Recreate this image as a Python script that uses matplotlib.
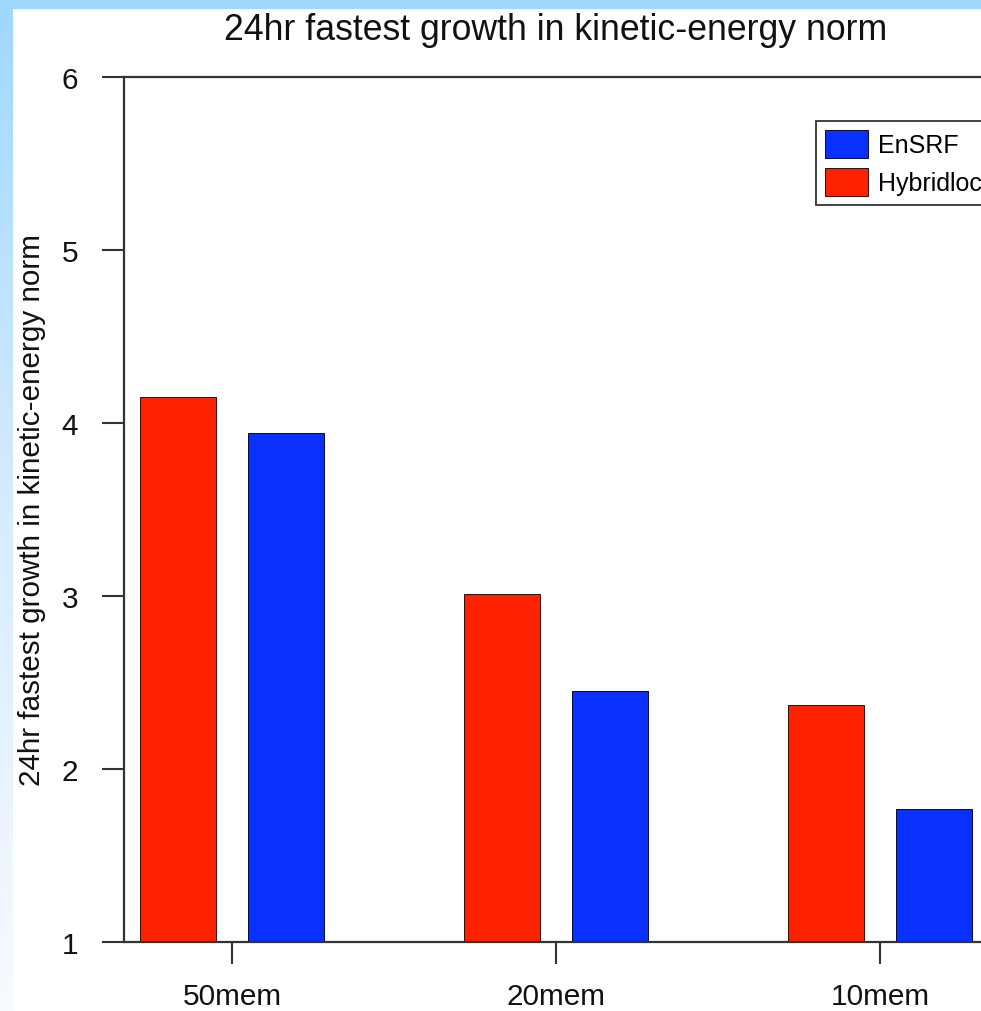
import numpy as np
import matplotlib
matplotlib.use("Agg")
import matplotlib.pyplot as plt
from matplotlib.patches import Rectangle, Patch

plt.rcParams['font.family'] = ['Liberation Sans', 'DejaVu Sans']

# Data
categories = ['50mem', '20mem', '10mem']
hybridloc = [4.15, 3.01, 2.37]
ensrf = [3.94, 2.45, 1.77]
y_ticks = [1, 2, 3, 4, 5, 6]

title = '24hr fastest growth in kinetic-energy norm'
red = '#ff2200'
blue = '#0a30ff'
ink = '#111111'
frame = '#333333'

W, H = 981, 1012
fig = plt.figure(figsize=(W / 100, H / 100), dpi=100, facecolor='white')

# Light-blue page border: flat strip on top, fading strip down the left side
fig.patches.append(Rectangle((0, 1 - 10 / H), 1, 10 / H, transform=fig.transFigure,
                             facecolor='#a0d8ff', edgecolor='none', zorder=0))
band = fig.add_axes([0, 0, 13 / W, 1 - 10 / H], zorder=0)
stops = np.array([[160, 216, 255], [214, 236, 255], [247, 251, 255]]) / 255.0
t = np.linspace(0, 1, 256)
grad = np.stack([np.interp(t, [0, 0.5, 1], stops[:, c]) for c in range(3)], axis=1)
band.imshow(grad[:, None, :], aspect='auto', extent=[0, 1, 0, 1])
band.set_axis_off()

# Main axes (extends past the right edge of the figure)
ax = fig.add_axes([124 / W, 69 / H, 864 / W, 865 / H], zorder=1)
ax.set_facecolor('white')

x = np.arange(len(categories))
offset = 1 / 6
width = 0.235
ax.bar(x - offset, hybridloc, width, color=red, edgecolor='#3a0a00', linewidth=0.7,
       label='Hybridloc', zorder=2)
ax.bar(x + offset, ensrf, width, color=blue, edgecolor='#00083a', linewidth=0.7,
       label='EnSRF', zorder=2)

ax.set_xlim(-1 / 3, len(categories) - 1 + 1 / 3)
ax.set_ylim(1, 6)
ax.set_xticks(x)
ax.set_xticklabels(categories)
ax.set_yticks(y_ticks)
ax.set_yticklabels([str(v) for v in y_ticks])

for side in ['top', 'bottom', 'left', 'right']:
    ax.spines[side].set_color(frame)
    ax.spines[side].set_linewidth(1.6)

ax.tick_params(axis='both', direction='out', length=16, width=1.5, color=frame,
               labelsize=21.4, labelcolor=ink)
ax.tick_params(axis='x', pad=13)
ax.tick_params(axis='y', pad=17)

ax.set_title(title, fontsize=25.7, color=ink, pad=27)
ax.set_ylabel(title, fontsize=21.3, color=ink, labelpad=11)

handles = [Patch(facecolor=blue, edgecolor='#00083a', linewidth=0.7),
           Patch(facecolor=red, edgecolor='#3a0a00', linewidth=0.7)]
leg = fig.legend(handles, ['EnSRF', 'Hybridloc'], loc='upper left',
                 bbox_to_anchor=(816 / W, 1 - 122 / H), bbox_transform=fig.transFigure,
                 fontsize=18, frameon=True, fancybox=False, framealpha=1,
                 edgecolor=frame, borderpad=0.36, borderaxespad=0,
                 handlelength=1.72, handleheight=1.35, handletextpad=0.4,
                 labelspacing=0.4)
leg.get_frame().set_linewidth(1.3)
leg.set_zorder(5)

fig.savefig('out.png', dpi=100, facecolor='white')
